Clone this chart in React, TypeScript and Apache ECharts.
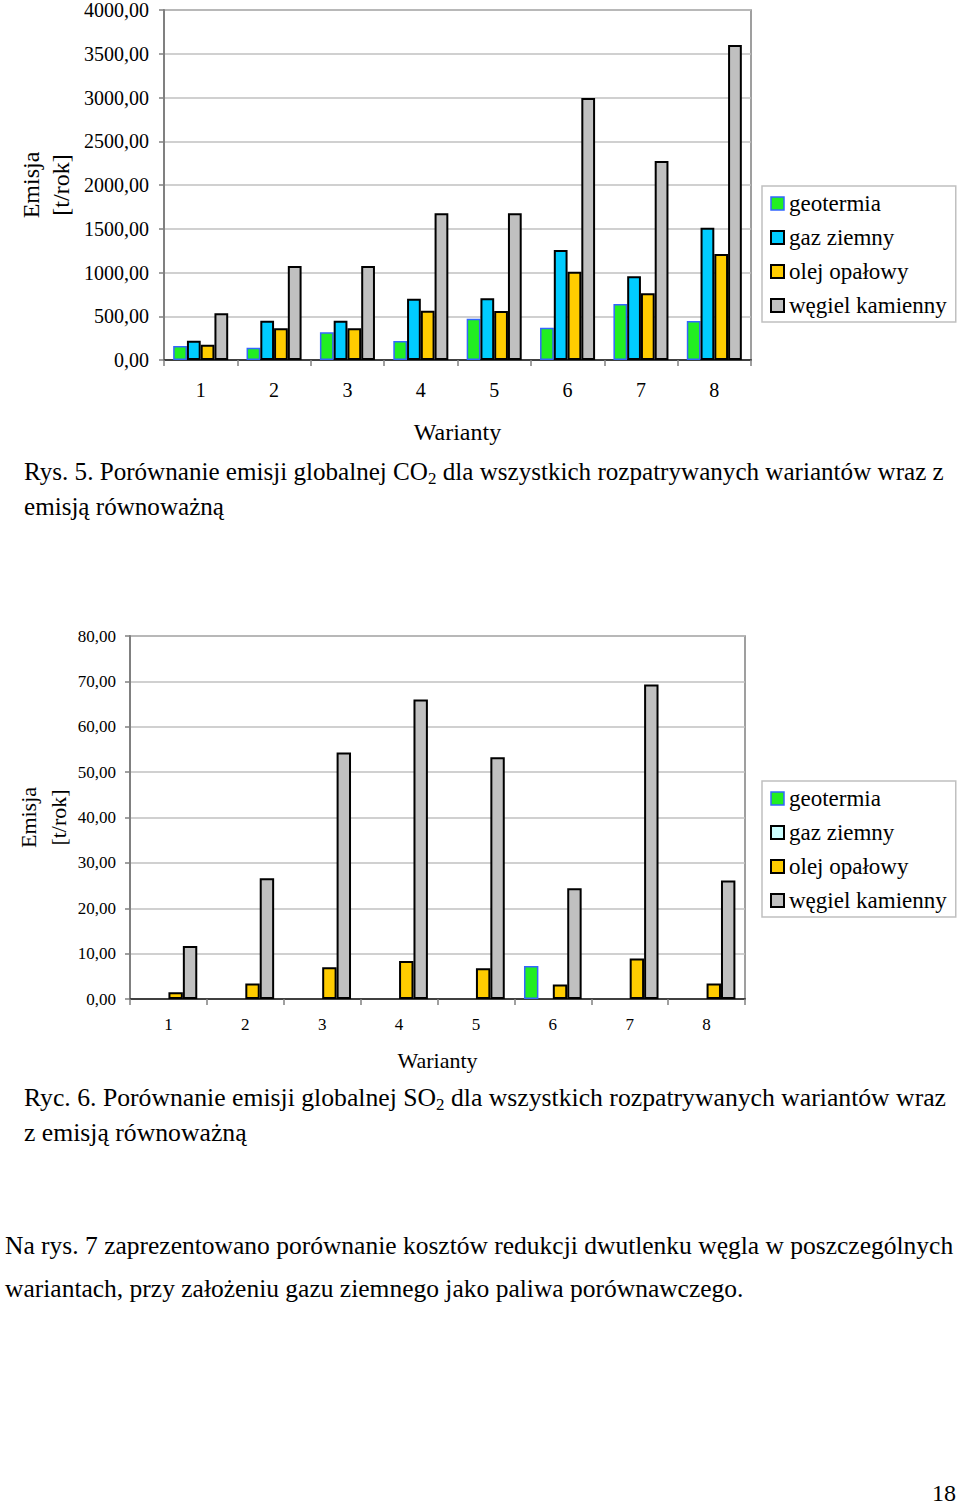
import React, { useEffect, useRef } from "react";
import * as echarts from "echarts";

const categories = ["1", "2", "3", "4", "5", "6", "7", "8"];
const seriesNames = ["geotermia", "gaz ziemny", "olej opałowy", "węgiel kamienny"];

const co2Geo = [160, 141, 316, 217, 472, 369, 640, 446];
const co2Gas = [220, 449, 449, 701, 705, 1257, 956, 1512];
const co2Oil = [175, 362, 362, 564, 560, 1009, 762, 1211];
const co2Coal = [533, 1074, 1074, 1676, 1676, 2994, 2274, 3600];

const so2Geo = [null, null, null, null, null, 7.3, null, null];
const so2Gas = [null, null, null, null, null, null, null, null];
const so2Oil = [1.5, 3.4, 7.0, 8.4, 6.8, 3.2, 8.9, 3.4];
const so2Coal = [11.7, 26.6, 54.3, 66.0, 53.3, 24.4, 69.3, 26.1];

const co2Ticks = { min: 0, max: 4000, interval: 500 };
const so2Ticks = { min: 0, max: 80, interval: 10 };

const FONT = "'Liberation Serif', 'Times New Roman', serif";

const colorsTop = ["#22ee22", "#00ccff", "#ffcc00", "#c0c0c0"];
const colorsBottom = ["#22ee22", "#ccffff", "#ffcc00", "#c0c0c0"];

function fmt(v: number) {
  return v.toFixed(2).replace(".", ",");
}

export default function App() {
  const ref = useRef<HTMLDivElement>(null);
  useEffect(() => {
    if (!ref.current) return;
    const chart = echarts.init(ref.current, undefined, { renderer: "svg" });

    const border = (i: number) =>
      i === 0
        ? { borderColor: "#3366ff", borderWidth: 1.5 }
        : { borderColor: "#000000", borderWidth: 2 };

    const mkSeries = (data: any[], idx: number, gi: number, colors: string[]) => ({
      type: "bar",
      name: seriesNames[idx],
      xAxisIndex: gi,
      yAxisIndex: gi,
      data,
      barGap: "0%",
      barCategoryGap: "25%",
      itemStyle: { color: colors[idx], ...border(idx) },
    });

    const xAxisCommon = (fs: number, margin: number, nameGap: number, nameFs: number) => ({
      type: "category",
      data: categories,
      boundaryGap: true,
      axisLine: { lineStyle: { color: "#404040", width: 2 } },
      axisTick: { show: true, length: 6, lineStyle: { color: "#808080", width: 1.5 } },
      axisLabel: { fontFamily: FONT, fontSize: fs, color: "#000", margin },
      name: "Warianty",
      nameLocation: "middle",
      nameGap,
      nameMoveOverlap: false,
      nameTextStyle: { fontFamily: FONT, fontSize: nameFs, color: "#000" },
    });

    const yAxisCommon = (ticks: any, fs: number, margin: number, nameGap: number, nameFs: number) => ({
      type: "value",
      min: ticks.min,
      max: ticks.max,
      interval: ticks.interval,
      axisLine: { show: true, lineStyle: { color: "#808080", width: 2 } },
      axisTick: { show: true, length: 5, lineStyle: { color: "#808080", width: 1.5 } },
      axisLabel: { fontFamily: FONT, fontSize: fs, color: "#000", margin, formatter: fmt },
      splitLine: { show: true, lineStyle: { color: "#c0c0c0", width: 1.5 } },
      name: "Emisja\n[t/rok]",
      nameLocation: "middle",
      nameGap,
      nameRotate: 90,
      nameMoveOverlap: false,
      nameTextStyle: { fontFamily: FONT, fontSize: nameFs, color: "#000", lineHeight: 30 },
    });

    const legendCommon = (top: number, colors: string[]) => ({
      orient: "vertical",
      left: 762,
      top,
      padding: [6, 9, 5, 8],
      itemWidth: 13,
      itemHeight: 13,
      itemGap: 11,
      itemTextGap: 7,
      icon: "rect",
      backgroundColor: "#fff",
      borderColor: "#c0c0c0",
      borderWidth: 1.5,
      borderRadius: 0,
      selectedMode: false,
      textStyle: { fontFamily: FONT, fontSize: 23, color: "#000", lineHeight: 23 },
      data: seriesNames.map((n, i) => ({
        name: n,
        itemStyle: { color: colors[i], ...border(i) },
      })),
    });

    const CAP = 25.1;
    const caption = (x: number, y: number, pre: string, sub: string, post: string, fs: number) => ({
      type: "text",
      x,
      y,
      style: {
        text: `{a|${pre}}{s|${sub}}{a|${post}}`,
        fill: "#000",
        rich: {
          a: { fontFamily: FONT, fontSize: fs, lineHeight: 32, verticalAlign: "middle", fill: "#000" },
          s: { fontFamily: FONT, fontSize: 17, lineHeight: 32, verticalAlign: "bottom", fill: "#000" },
        },
        verticalAlign: "middle",
      },
    });

    const plainText = (x: number, y: number, text: string, fs: number, lh?: number) => ({
      type: "text",
      x,
      y,
      style: {
        text,
        fontFamily: FONT,
        fontSize: fs,
        lineHeight: lh || fs,
        fill: "#000",
        verticalAlign: "middle",
      },
    });

    chart.setOption({
      animation: false,
      backgroundColor: "#fff",
      grid: [
        { left: 164, top: 10, width: 587, height: 350, show: true, borderColor: "#808080", borderWidth: 1.5, backgroundColor: "transparent", outerBoundsMode: "none", containLabel: false },
        { left: 130, top: 636, width: 615, height: 363, show: true, borderColor: "#808080", borderWidth: 1.5, backgroundColor: "transparent", outerBoundsMode: "none", containLabel: false },
      ],
      xAxis: [
        { gridIndex: 0, ...xAxisCommon(20, 20, 60, 24) },
        { gridIndex: 1, ...xAxisCommon(17, 17, 50, 22) },
      ],
      yAxis: [
        { gridIndex: 0, ...yAxisCommon(co2Ticks, 20, 15, 88, 24) },
        { gridIndex: 1, ...yAxisCommon(so2Ticks, 17, 14, 57, 22) },
      ],
      legend: [legendCommon(186, colorsTop), legendCommon(781, colorsBottom)],
      series: [
        mkSeries(co2Geo, 0, 0, colorsTop),
        mkSeries(co2Gas, 1, 0, colorsTop),
        mkSeries(co2Oil, 2, 0, colorsTop),
        mkSeries(co2Coal, 3, 0, colorsTop),
        mkSeries(so2Geo, 0, 1, colorsBottom),
        mkSeries(so2Gas, 1, 1, colorsBottom),
        mkSeries(so2Oil, 2, 1, colorsBottom),
        mkSeries(so2Coal, 3, 1, colorsBottom),
      ],
      graphic: [
        caption(24, 471, "Rys. 5. Porównanie emisji globalnej CO", "2", " dla wszystkich rozpatrywanych wariantów wraz z", CAP),
        plainText(24, 506, "emisją równoważną", CAP),
        caption(24, 1097, "Ryc. 6. Porównanie emisji globalnej SO", "2", " dla wszystkich rozpatrywanych wariantów wraz", 25.7),
        plainText(24, 1132, "z emisją równoważną", 25.7),
        plainText(5, 1245, "Na rys. 7 zaprezentowano porównanie kosztów redukcji dwutlenku węgla w poszczególnych", 25.5),
        plainText(5, 1288, "wariantach, przy założeniu gazu ziemnego jako paliwa porównawczego.", 25.5),
        plainText(932, 1493, "18", 24, 20),
      ],
    });

    return () => chart.dispose();
  }, []);

  return (
    <div
      ref={ref}
      style={{ position: "absolute", left: 0, top: 0, width: 960, height: 1505, background: "#fff" }}
    />
  );
}
